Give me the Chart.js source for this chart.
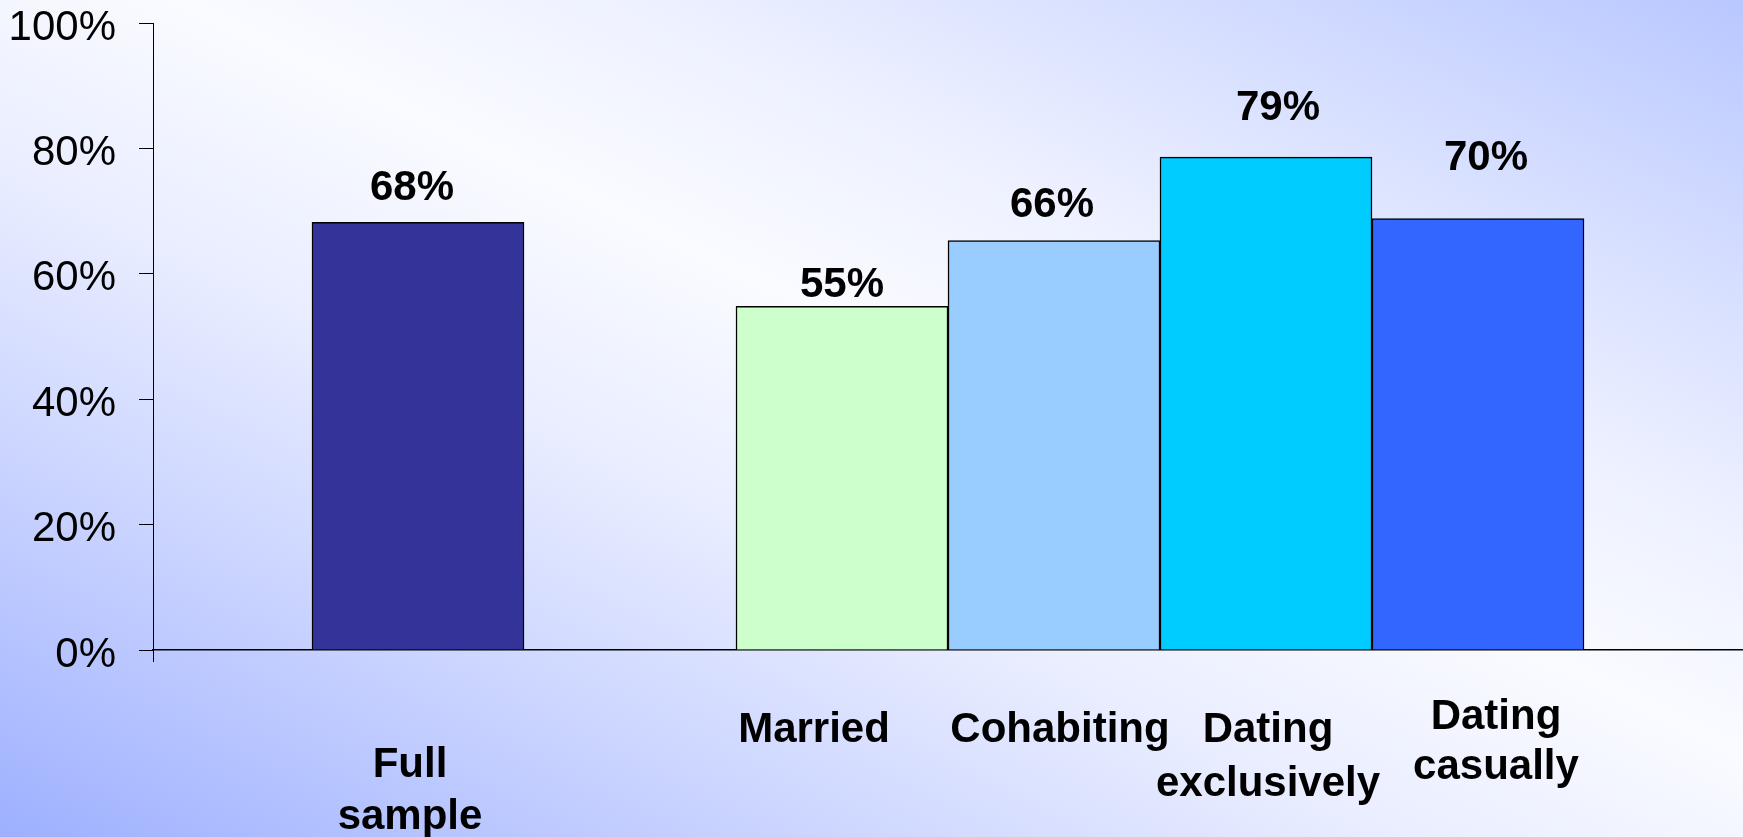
<!DOCTYPE html>
<html>
<head>
<meta charset="utf-8">
<script src="https://cdn.jsdelivr.net/npm/chart.js@4.4.1/dist/chart.umd.min.js"></script>
<style>
  html, body {
    margin: 0;
    padding: 0;
    overflow: hidden;
  }
  body {
    width: 1743px;
    height: 837px;
    background: linear-gradient(to top right, #9db0ff 0%, #c9d3ff 22%, #e9edff 40%, #fafbff 55%, #eef1ff 68%, #d3dcff 85%, #b8c7ff 100%);
  }
  #chart {
    display: block;
  }
</style>
</head>
<body>
<canvas id="chart" width="1743" height="837"></canvas>
<script>
const categories = ['Full sample', 'Married', 'Cohabiting', 'Dating exclusively', 'Dating casually'];
const values = [68.2, 54.8, 65.3, 78.6, 68.8];
const valueLabels = ['68%', '55%', '66%', '79%', '70%'];
const yTicks = [0, 20, 40, 60, 80, 100];

const barColors = ['#333399', '#CCFFCC', '#99CCFF', '#00CCFF', '#3366FF'];

// full sample sits alone, then a gap, then the four relationship groups side by side
const slots = categories.map((c, i) => (i === 0 ? 0 : i + 1));

// hand-placed text, like the original slide
const valueNudge = [[-6, 34], [0, 21], [-2, 35], [12, 49], [8, 60]];
const nameLines = [['Full', 'sample'], ['Married'], ['Cohabiting'], ['Dating', 'exclusively'], ['Dating', 'casually']];
const nameNudge = [[-8, 115, 52], [-28, 80, 0], [6, 80, 0], [2, 80, 54], [18, 67, 50]];

const slideText = {
    id: 'slideText',
    afterDatasetsDraw(chart) {
        const ctx = chart.ctx;
        const bars = chart.getDatasetMeta(0).data;
        const bottom = chart.chartArea.bottom;
        ctx.save();
        ctx.fillStyle = '#000';
        ctx.textAlign = 'center';
        ctx.textBaseline = 'middle';
        ctx.font = 'bold 42px "Liberation Sans", Arial, sans-serif';
        bars.forEach((bar, i) => {
            ctx.fillText(valueLabels[i], bar.x + valueNudge[i][0], bar.y - valueNudge[i][1]);
            nameLines[i].forEach((line, j) => {
                ctx.fillText(line, bar.x + nameNudge[i][0], bottom + nameNudge[i][1] + j * nameNudge[i][2]);
            });
        });
        ctx.restore();
    }
};

const data = {
    datasets: [{
        label: 'Percent',
        data: values.map((v, i) => ({ x: slots[i], y: v })),
        backgroundColor: barColors,
        borderColor: '#000',
        borderWidth: 1.5,
        barPercentage: 1,
        categoryPercentage: 1
    }]
};

const config = {
    type: 'bar',
    data: data,
    plugins: [slideText],
    options: {
        responsive: false,
        animation: false,
        layout: { padding: { top: 23, right: 0, left: 0, bottom: 0 } },
        plugins: {
            legend: { display: false },
            title: { display: false },
            tooltip: { enabled: false }
        },
        scales: {
            x: {
                type: 'linear',
                offset: false,
                min: -1.25,
                max: 6.25,
                afterBuildTicks: function(scale) {
                    scale.ticks = [{ value: -1.25 }, { value: 6.25 }];
                },
                afterFit: function(scale) {
                    scale.height = 187;
                    scale.paddingLeft = 0;
                    scale.paddingRight = 0;
                },
                ticks: { display: false },
                grid: {
                    offset: false,
                    drawOnChartArea: false,
                    drawTicks: true,
                    tickLength: 12,
                    color: '#000',
                    lineWidth: 1
                },
                border: { color: '#000', width: 1.5 }
            },
            y: {
                min: 0,
                max: 100,
                afterBuildTicks: function(scale) {
                    scale.ticks = yTicks.map((v) => ({ value: v }));
                },
                afterFit: function(scale) {
                    scale.width = 153;
                    scale.paddingTop = 0;
                    scale.paddingBottom = 0;
                },
                ticks: {
                    padding: 23,
                    labelOffset: 5,
                    color: '#000',
                    font: { family: '"Liberation Sans", Arial, sans-serif', size: 42 },
                    callback: function(value) {
                        return value + '%';
                    }
                },
                grid: {
                    drawOnChartArea: false,
                    drawTicks: true,
                    tickLength: 14,
                    color: '#000',
                    lineWidth: 1
                },
                border: { color: '#000', width: 1 }
            }
        }
    }
};

new Chart(document.getElementById('chart'), config);
</script>
</body>
</html>
